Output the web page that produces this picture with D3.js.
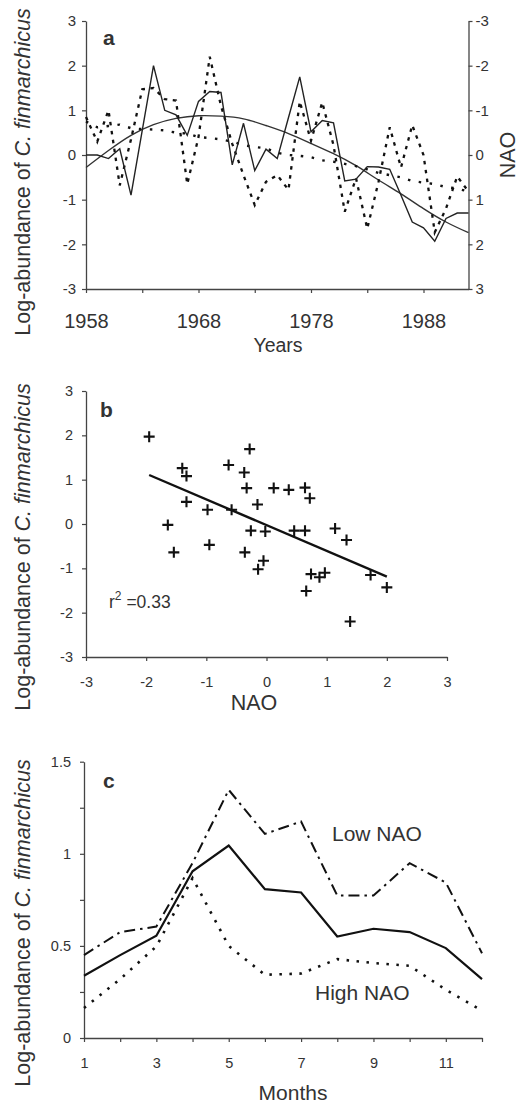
<!DOCTYPE html>
<html><head><meta charset="utf-8">
<script src="https://cdn.jsdelivr.net/npm/d3@7"></script>
<style>
body{margin:0;background:#fff}
text{font-family:"Liberation Sans",Arial,Helvetica,sans-serif;fill:#333}
</style>
</head><body>
<svg id="chart" width="525" height="1104"></svg>
<script>
// ---------- Panel a : yearly series ----------
const years = [1958,1959,1960,1961,1962,1963,1964,1965,1966,1967,1968,1969,1970,1971,1972,1973,1974,1975,1976,1977,1978,1979,1980,1981,1982,1983,1984,1985,1986,1987,1988,1989,1990,1991,1992];
const abundance = [0.0,0.0,-0.08,0.14,-0.9,0.55,2.0,1.0,0.9,0.44,1.2,1.42,1.4,-0.22,0.71,-0.35,0.13,-0.08,0.84,1.75,0.52,0.77,0.72,-0.58,-0.54,-0.26,-0.27,-0.32,-0.9,-1.5,-1.63,-1.93,-1.42,-1.3,-1.3];
const naoIndex = [-0.85,-0.3,-1.0,0.68,-0.35,-1.47,-1.5,-1.25,-1.22,0.65,-0.4,-2.2,-1.1,-0.25,0.45,1.12,0.6,0.45,0.78,-1.2,-0.32,-1.18,-0.22,1.27,0.52,1.65,0.6,-0.62,0.28,-0.67,0.0,1.73,1.2,0.48,0.82];
const naoTrend = [-0.75,-0.62,-0.65,-0.68,-0.6,-0.58,-0.57,-0.55,-0.5,-0.48,-0.4,-0.38,-0.35,-0.3,-0.22,-0.18,-0.15,-0.05,0.0,0.02,0.05,0.12,0.15,0.2,0.25,0.32,0.4,0.45,0.5,0.58,0.62,0.65,0.72,0.75,0.82];
const fitYears = [1958,1960,1962,1964,1966,1968,1970,1972,1974,1976,1978,1980,1982,1984,1986,1988,1990,1992];
const fitValues = [-0.28,0.1,0.44,0.68,0.82,0.88,0.87,0.81,0.66,0.48,0.26,0.03,-0.24,-0.56,-0.87,-1.2,-1.5,-1.74];
const yTicksA = [-3,-2,-1,0,1,2,3];
const xTicksA = [1958,1963,1968,1973,1978,1983,1988];
const xLabelsA = [1958,1968,1978,1988];

// ---------- Panel b : scatter ----------
const scatterNAO = [-1.95,-1.40,-1.33,-1.33,-1.64,-1.54,-0.98,-0.95,-0.63,-0.58,-0.37,-0.28,-0.33,-0.15,-0.26,-0.02,-0.36,-0.05,-0.14,0.12,0.37,0.64,0.72,0.46,0.64,0.74,0.66,0.88,0.97,1.14,1.33,1.39,1.73,2.00];
const scatterAbund = [1.97,1.26,1.08,0.50,-0.02,-0.64,0.32,-0.47,1.33,0.32,1.16,1.69,0.81,0.44,-0.15,-0.17,-0.64,-0.83,-1.02,0.81,0.77,0.82,0.58,-0.15,-0.15,-1.13,-1.51,-1.20,-1.10,-0.10,-0.36,-2.20,-1.15,-1.43];
const ticksB = [-3,-2,-1,0,1,2,3];
const r2Label = "0.33";

// ---------- Panel c : monthly ----------
const months = [1,2,3,4,5,6,7,8,9,10,11,12];
const meanMonthly = [0.338,0.45,0.555,0.905,1.045,0.808,0.79,0.551,0.593,0.575,0.488,0.32];
const lowNAO = [0.45,0.575,0.605,0.95,1.347,1.108,1.175,0.773,0.773,0.949,0.844,0.46];
const highNAO = [0.163,0.32,0.497,0.868,0.50,0.343,0.35,0.428,0.407,0.392,0.262,0.148];
const yTicksC = [0,0.25,0.5,0.75,1,1.25,1.5];
const yLabelsC = [0,0.5,1,1.5];
const xLabelsC = [1,3,5,7,9,11];

const svg = d3.select("#chart");
const AX = "#444";
const FONT = '"Liberation Sans",Arial,Helvetica,sans-serif';
const fmt = d => String(d); // plain hyphen-minus, no decimals

function styleAxis(g, fs){
  g.select(".domain").attr("stroke", AX).attr("stroke-width", 1.3);
  g.selectAll(".tick line").attr("stroke", AX).attr("stroke-width", 1.2);
  g.selectAll("text").attr("font-size", fs).attr("fill", "#333").attr("font-family", FONT);
}
function yTitle(cy){
  const t = svg.append("text")
    .attr("transform", `translate(30,${cy}) rotate(-90)`)
    .attr("text-anchor", "middle").attr("font-size", 21.5);
  t.append("tspan").text("Log-abundance of ");
  t.append("tspan").attr("font-style", "italic").text("C. finmarchicus");
}

// ================= Panel a =================
const xA = d3.scaleLinear().domain([1958,1992]).range([86,468.5]);
const yA = d3.scaleLinear().domain([-3,3]).range([289,21]);
const yN = d3.scaleLinear().domain([3,-3]).range([289,21]);

const gAL = svg.append("g").attr("transform","translate(86,0)")
  .call(d3.axisLeft(yA).tickValues(yTicksA).tickFormat(fmt).tickSize(4).tickPadding(6).tickSizeOuter(0));
styleAxis(gAL, 15);
const gAR = svg.append("g").attr("transform","translate(468.5,0)")
  .call(d3.axisRight(yN).tickValues(yTicksA).tickFormat(fmt).tickSize(4).tickPadding(3).tickSizeOuter(0));
styleAxis(gAR, 15);
const gAB = svg.append("g").attr("transform","translate(0,289)")
  .call(d3.axisBottom(xA).tickValues(xTicksA).tickSize(4).tickSizeOuter(0)
     .tickFormat(d => xLabelsA.includes(d) ? String(d) : ""));
styleAxis(gAB, 20);
gAB.selectAll("text").attr("y", 39).attr("dy", 0);

// fitted trend
svg.append("path")
  .attr("d", d3.line().x((d,i)=>xA(fitYears[i])).y(d=>yA(d)).curve(d3.curveNatural)(fitValues))
  .attr("fill","none").attr("stroke","#333").attr("stroke-width",1.4);
// NAO smooth (light dotted)
svg.append("path")
  .attr("d", d3.line().x((d,i)=>xA(years[i])).y(d=>yN(d))(naoTrend))
  .attr("fill","none").attr("stroke","#111").attr("stroke-width",2.4)
  .attr("stroke-dasharray","2.5,8.5");
// NAO yearly (heavy dotted)
svg.append("path")
  .attr("d", d3.line().x((d,i)=>xA(years[i])).y(d=>yN(d))(naoIndex))
  .attr("fill","none").attr("stroke","#111").attr("stroke-width",2.3)
  .attr("stroke-dasharray","3.5,5.5");
// abundance
svg.append("path")
  .attr("d", d3.line().x((d,i)=>xA(years[i])).y(d=>yA(d))(abundance))
  .attr("fill","none").attr("stroke","#222").attr("stroke-width",1.4);

svg.append("text").attr("x",103).attr("y",45).attr("font-size",21).attr("font-weight","bold").attr("fill","#222").text("a");
yTitle(172);
svg.append("text").attr("transform","translate(515,155) rotate(-90)").attr("text-anchor","middle")
  .attr("font-size",21.5).text("NAO");
svg.append("text").attr("x",278).attr("y",352).attr("text-anchor","middle").attr("font-size",19.5).text("Years");

// ================= Panel b =================
const xB = d3.scaleLinear().domain([-3,3]).range([86,447]);
const yB = d3.scaleLinear().domain([-3,3]).range([657,391]);

const gBL = svg.append("g").attr("transform","translate(86,0)")
  .call(d3.axisLeft(yB).tickValues(ticksB).tickFormat(fmt).tickSize(4).tickPadding(9).tickSizeOuter(0));
styleAxis(gBL, 14.5);
const gBB = svg.append("g").attr("transform","translate(0,657)")
  .call(d3.axisBottom(xB).tickValues(ticksB).tickFormat(fmt).tickSize(4).tickSizeOuter(0));
styleAxis(gBB, 14.5);
gBB.selectAll("text").attr("y", 30).attr("dy", 0);

// regression line computed from the points
const n = scatterNAO.length;
const mx = d3.mean(scatterNAO), my = d3.mean(scatterAbund);
let sxy = 0, sxx = 0;
for (let i=0;i<n;i++){ sxy += (scatterNAO[i]-mx)*(scatterAbund[i]-my); sxx += (scatterNAO[i]-mx)**2; }
const slope = sxy/sxx, icpt = my - slope*mx;
const [xmin, xmax] = d3.extent(scatterNAO);
svg.append("line")
  .attr("x1", xB(xmin)).attr("y1", yB(icpt+slope*xmin))
  .attr("x2", xB(xmax)).attr("y2", yB(icpt+slope*xmax))
  .attr("stroke","#111").attr("stroke-width",2.4);

svg.append("g").selectAll("path").data(scatterNAO).join("path")
  .attr("transform",(d,i)=>`translate(${xB(d)},${yB(scatterAbund[i])})`)
  .attr("d","M-5.5,0H5.5M0,-5.5V5.5")
  .attr("stroke","#111").attr("stroke-width",2.1).attr("fill","none");

const r2 = svg.append("text").attr("x",109).attr("y",608).attr("font-size",17.5);
r2.append("tspan").text("r");
r2.append("tspan").attr("dy",-8).attr("font-size",12).text("2");
r2.append("tspan").attr("dy",8).text(" =" + r2Label);

svg.append("text").attr("x",100).attr("y",417).attr("font-size",21).attr("font-weight","bold").attr("fill","#222").text("b");
yTitle(547);
svg.append("text").attr("x",254).attr("y",710).attr("text-anchor","middle").attr("font-size",21.5).text("NAO");

// ================= Panel c =================
const xC = d3.scaleLinear().domain([1,12]).range([84,482]);
const yC = d3.scaleLinear().domain([0,1.5]).range([1038,761.7]);

const gCL = svg.append("g").attr("transform","translate(84,0)")
  .call(d3.axisLeft(yC).tickValues(yTicksC).tickSize(4).tickPadding(9).tickSizeOuter(0)
     .tickFormat(d => yLabelsC.includes(d) ? String(d) : ""));
styleAxis(gCL, 14.5);
const gCB = svg.append("g").attr("transform","translate(0,1038)")
  .call(d3.axisBottom(xC).tickValues(months).tickSize(4).tickSizeOuter(0)
     .tickFormat(d => xLabelsC.includes(d) ? String(d) : ""));
styleAxis(gCB, 14.5);
gCB.selectAll("text").attr("y", 30).attr("dy", 0);

const lineC = d3.line().x((d,i)=>xC(months[i])).y(d=>yC(d));
svg.append("path").attr("d", lineC(highNAO)).attr("fill","none")
  .attr("stroke","#111").attr("stroke-width",2.6).attr("stroke-dasharray","2.5,7.5");
svg.append("path").attr("d", lineC(lowNAO)).attr("fill","none")
  .attr("stroke","#111").attr("stroke-width",2).attr("stroke-dasharray","11,5,2.5,5");
svg.append("path").attr("d", lineC(meanMonthly)).attr("fill","none")
  .attr("stroke","#111").attr("stroke-width",2.2);

svg.append("text").attr("x",332).attr("y",841).attr("font-size",21).text("Low NAO");
svg.append("text").attr("x",315).attr("y",1000).attr("font-size",21).text("High NAO");
svg.append("text").attr("x",103).attr("y",788).attr("font-size",21).attr("font-weight","bold").attr("fill","#222").text("c");
yTitle(923);
svg.append("text").attr("x",293).attr("y",1100).attr("text-anchor","middle").attr("font-size",21).text("Months");
</script>
</body></html>
